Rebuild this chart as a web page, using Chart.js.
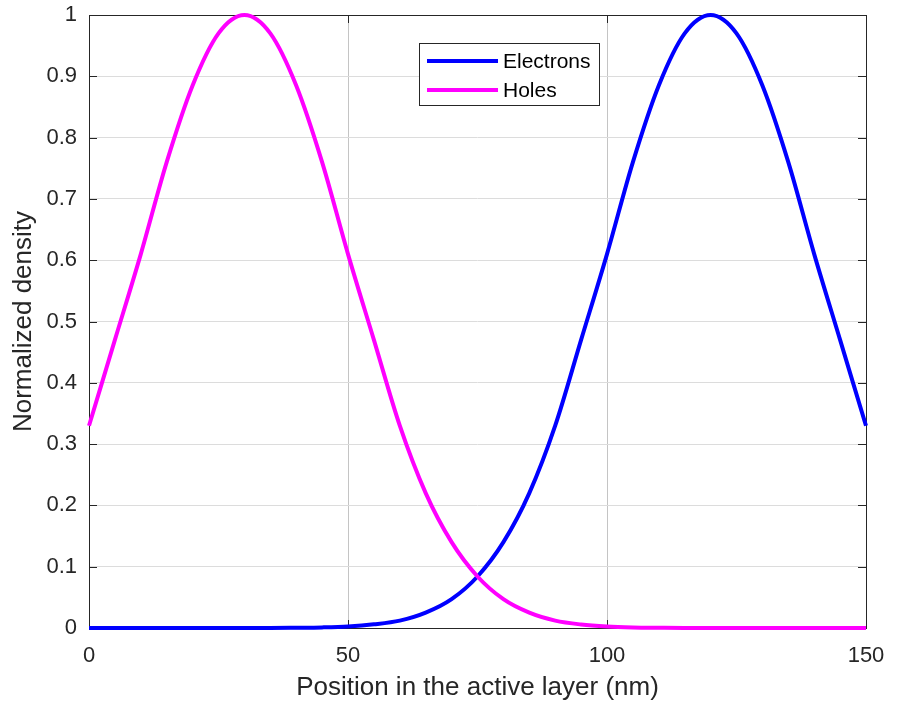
<!DOCTYPE html>
<html>
<head>
<meta charset="utf-8">
<script src="https://cdn.jsdelivr.net/npm/chart.js@4.4.1/dist/chart.umd.min.js"></script>
<style>
  html, body { margin: 0; padding: 0; background: #fff; }
  #wrap { width: 897px; height: 703px; }
</style>
</head>
<body>
<div id="wrap"><canvas id="density"></canvas></div>
<script>
// Position in the active layer (nm)
const positions = [0, 5, 10, 15, 20, 25, 30, 35, 40, 45, 50, 55, 60, 65, 70, 75,
  80, 85, 90, 95, 100, 105, 110, 115, 120, 125, 130, 135, 140, 145, 150];

// Normalized densities
const electrons = [0, 0, 0, 0, 0, 0, 0, 0, 0.0004, 0.001, 0.0025, 0.006, 0.012, 0.025, 0.047, 0.084,
  0.14, 0.22, 0.33, 0.47, 0.61, 0.76, 0.885, 0.97, 1, 0.97, 0.885, 0.76, 0.61, 0.47, 0.33];
const holes = [0.33, 0.47, 0.61, 0.76, 0.885, 0.97, 1, 0.97, 0.885, 0.76, 0.61, 0.47, 0.33, 0.22, 0.14, 0.084,
  0.047, 0.025, 0.012, 0.0057, 0.0025, 0.001, 0.0004, 0, 0, 0, 0, 0, 0, 0, 0];

const seriesLabels = ['Electrons', 'Holes'];
const xTicks = [0, 50, 100, 150];
const yTicks = [0, 0.1, 0.2, 0.3, 0.4, 0.5, 0.6, 0.7, 0.8, 0.9, 1];

const FONT = "'Liberation Sans', Arial, Helvetica, sans-serif";
const AXIS = '#262626';
const TICK_LEN = 8;

function toPoints(values) {
  return positions.map((x, i) => ({ x, y: values[i] }));
}

// MATLAB-style box with inward tick marks
const boxTicks = {
  id: 'boxTicks',
  beforeDatasetsDraw(chart) {
    const { ctx, chartArea: a, scales: { x, y } } = chart;
    ctx.save();
    ctx.strokeStyle = AXIS;
    ctx.lineWidth = 1;
    ctx.beginPath();
    xTicks.forEach(v => {
      const px = Math.round(x.getPixelForValue(v)) + 0.5;
      ctx.moveTo(px, a.bottom); ctx.lineTo(px, a.bottom - TICK_LEN);
      ctx.moveTo(px, a.top); ctx.lineTo(px, a.top + TICK_LEN);
    });
    yTicks.forEach(v => {
      const py = Math.round(y.getPixelForValue(v)) + 0.5;
      ctx.moveTo(a.left, py); ctx.lineTo(a.left + TICK_LEN, py);
      ctx.moveTo(a.right, py); ctx.lineTo(a.right - TICK_LEN, py);
    });
    ctx.stroke();
    ctx.strokeRect(Math.round(a.left) + 0.5, Math.round(a.top) + 0.5,
      Math.round(a.width), Math.round(a.height));
    ctx.restore();
  }
};

// legend box inside the axes, near the top centre
const boxLegend = {
  id: 'boxLegend',
  afterDatasetsDraw(chart) {
    const { ctx } = chart;
    const bx = 419.5, by = 43.5, bw = 180, bh = 62;
    ctx.save();
    ctx.fillStyle = '#fff';
    ctx.fillRect(bx, by, bw, bh);
    ctx.strokeStyle = AXIS;
    ctx.lineWidth = 1;
    ctx.strokeRect(bx, by, bw, bh);
    ctx.font = `21px ${FONT}`;
    ctx.textBaseline = 'middle';
    ctx.textAlign = 'left';
    chart.data.datasets.forEach((ds, i) => {
      const ly = 61 + i * 29;
      ctx.strokeStyle = ds.borderColor;
      ctx.lineWidth = 4;
      ctx.beginPath();
      ctx.moveTo(427, ly);
      ctx.lineTo(498, ly);
      ctx.stroke();
      ctx.fillStyle = '#000';
      ctx.fillText(ds.label, 503, ly + 1);
    });
    ctx.restore();
  }
};

new Chart(document.getElementById('density'), {
  type: 'line',
  data: {
    datasets: [
      {
        label: seriesLabels[0],
        data: toPoints(electrons),
        borderColor: '#0000ff',
        borderWidth: 4,
        pointRadius: 0,
        cubicInterpolationMode: 'monotone',
        clip: false,
        order: 2
      },
      {
        label: seriesLabels[1],
        data: toPoints(holes),
        borderColor: '#ff00ff',
        borderWidth: 4,
        pointRadius: 0,
        cubicInterpolationMode: 'monotone',
        clip: false,
        order: 1
      }
    ]
  },
  options: {
    responsive: true,
    maintainAspectRatio: false,
    animation: false,
    layout: { padding: { top: 15, right: 31, left: 0, bottom: 0 } },
    plugins: {
      legend: { display: false },
      tooltip: { enabled: false }
    },
    scales: {
      x: {
        type: 'linear',
        min: 0,
        max: 150,
        afterBuildTicks(scale) { scale.ticks = xTicks.map(v => ({ value: v })); },
        afterFit(scale) {
          scale.height = 75;
          scale.paddingLeft = 0;
          scale.paddingRight = 0;
        },
        grid: { color: '#c4c4c4', drawTicks: false },
        border: { display: false },
        ticks: { color: AXIS, padding: 15, font: { family: FONT, size: 22 } },
        title: {
          display: true,
          text: 'Position in the active layer (nm)',
          color: AXIS,
          padding: { top: 0, bottom: 0 },
          font: { family: FONT, size: 26 }
        }
      },
      y: {
        type: 'linear',
        min: 0,
        max: 1,
        afterBuildTicks(scale) { scale.ticks = yTicks.map(v => ({ value: v })); },
        afterFit(scale) {
          scale.width = 89;
          scale.paddingTop = 0;
          scale.paddingBottom = 0;
        },
        grid: { color: '#dcdcdc', drawTicks: false },
        border: { display: false },
        ticks: {
          color: AXIS,
          padding: 12,
          font: { family: FONT, size: 22 },
          callback(val) { return String(Math.round(val * 10) / 10); }
        },
        title: {
          display: true,
          text: 'Normalized density',
          color: AXIS,
          padding: { top: 8, bottom: 0 },
          font: { family: FONT, size: 26 }
        }
      }
    }
  },
  plugins: [boxTicks, boxLegend]
});
</script>
</body>
</html>
